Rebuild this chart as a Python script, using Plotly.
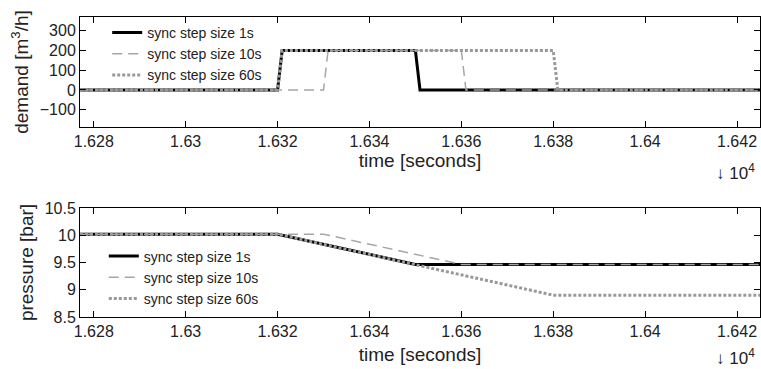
import plotly.graph_objects as go

# ---- data ----
series_names = ["sync step size 1s", "sync step size 10s", "sync step size 60s"]

demand_t_1s = [16277, 16320, 16321, 16350, 16351, 16425]
demand_v_1s = [0, 0, 200, 200, 0, 0]
demand_t_10s = [16277, 16330, 16331, 16360, 16361, 16425]
demand_v_10s = [0, 0, 200, 200, 0, 0]
demand_t_60s = [16277, 16320, 16321, 16380, 16381, 16425]
demand_v_60s = [0, 0, 200, 200, 0, 0]

pressure_t_1s = [16277, 16320, 16350, 16425]
pressure_v_1s = [10.02, 10.02, 9.465, 9.465]
pressure_t_10s = [16277, 16330, 16360, 16425]
pressure_v_10s = [10.02, 10.02, 9.465, 9.465]
pressure_t_60s = [16277, 16320, 16380, 16425]
pressure_v_60s = [10.02, 10.02, 8.9, 8.9]

x_tickvals = [16280, 16300, 16320, 16340, 16360, 16380, 16400, 16420]
x_ticktext = ["1.628", "1.63", "1.632", "1.634", "1.636", "1.638", "1.64", "1.642"]
demand_ticks = [-100, 0, 100, 200, 300]
pressure_ticks = [8.5, 9, 9.5, 10, 10.5]

styles = [
    dict(color="#000000", width=3, dash="solid"),
    dict(color="#a6a6a6", width=1.5, dash="10px,6px"),
    dict(color="#999999", width=3, dash="3px,2px"),
]

FONT = "Liberation Sans, Arial, sans-serif"

fig = go.Figure()

demand = [(demand_t_1s, demand_v_1s), (demand_t_10s, demand_v_10s), (demand_t_60s, demand_v_60s)]
pressure = [(pressure_t_1s, pressure_v_1s), (pressure_t_10s, pressure_v_10s), (pressure_t_60s, pressure_v_60s)]

for name, (t, v), st in zip(series_names, demand, styles):
    fig.add_trace(go.Scatter(x=t, y=v, mode="lines", name=name, line=st,
                             xaxis="x", yaxis="y", legend="legend"))
for name, (t, v), st in zip(series_names, pressure, styles):
    fig.add_trace(go.Scatter(x=t, y=v, mode="lines", name=name, line=st,
                             xaxis="x2", yaxis="y2", legend="legend2"))

axis_common = dict(
    showline=True, linecolor="black", linewidth=1, mirror="ticks",
    ticks="inside", ticklen=6, tickcolor="black", showgrid=False, zeroline=False,
    tickfont=dict(family=FONT, size=16, color="#222"),
)

fig.update_layout(
    width=761, height=369,
    margin=dict(l=80, r=1, t=17, b=52),
    paper_bgcolor="white", plot_bgcolor="white",
    font=dict(family=FONT, color="#222"),
    xaxis=dict(domain=[0, 1], anchor="y", range=[16277, 16425],
               tickvals=x_tickvals, ticktext=x_ticktext,
               title=dict(text="time [seconds]", font=dict(size=19, family=FONT), standoff=2),
               **axis_common),
    yaxis=dict(domain=[0.6333, 1], anchor="x", range=[-188, 370],
               tickvals=demand_ticks,
               title=dict(text="demand [m<sup>3</sup>/h]", font=dict(size=19, family=FONT), standoff=6),
               **axis_common),
    xaxis2=dict(domain=[0, 1], anchor="y2", range=[16277, 16425],
                tickvals=x_tickvals, ticktext=x_ticktext,
                title=dict(text="time [seconds]", font=dict(size=19, family=FONT), standoff=8),
                **axis_common),
    yaxis2=dict(domain=[0, 0.3633], anchor="x2", range=[8.5, 10.5],
                tickvals=pressure_ticks,
                title=dict(text="pressure [bar]", font=dict(size=19, family=FONT), standoff=6),
                **axis_common),
    legend=dict(x=0.04, y=1.0, xanchor="left", yanchor="top", bgcolor="rgba(255,255,255,0)",
                font=dict(family=FONT, size=14, color="#222"), tracegroupgap=0),
    legend2=dict(x=0.035, y=0.255, xanchor="left", yanchor="top", bgcolor="rgba(255,255,255,0)",
                 font=dict(family=FONT, size=14, color="#222"), tracegroupgap=0),
    showlegend=True,
)

for yy in [172, 357]:
    fig.add_annotation(text="\u2193 10<sup>4</sup>", xref="paper", yref="paper",
                       x=0.995, y=(369 - 52 - yy) / 300.0, xanchor="right", yanchor="middle",
                       showarrow=False, font=dict(family=FONT, size=17, color="#222"))

fig.write_html("out.html")
